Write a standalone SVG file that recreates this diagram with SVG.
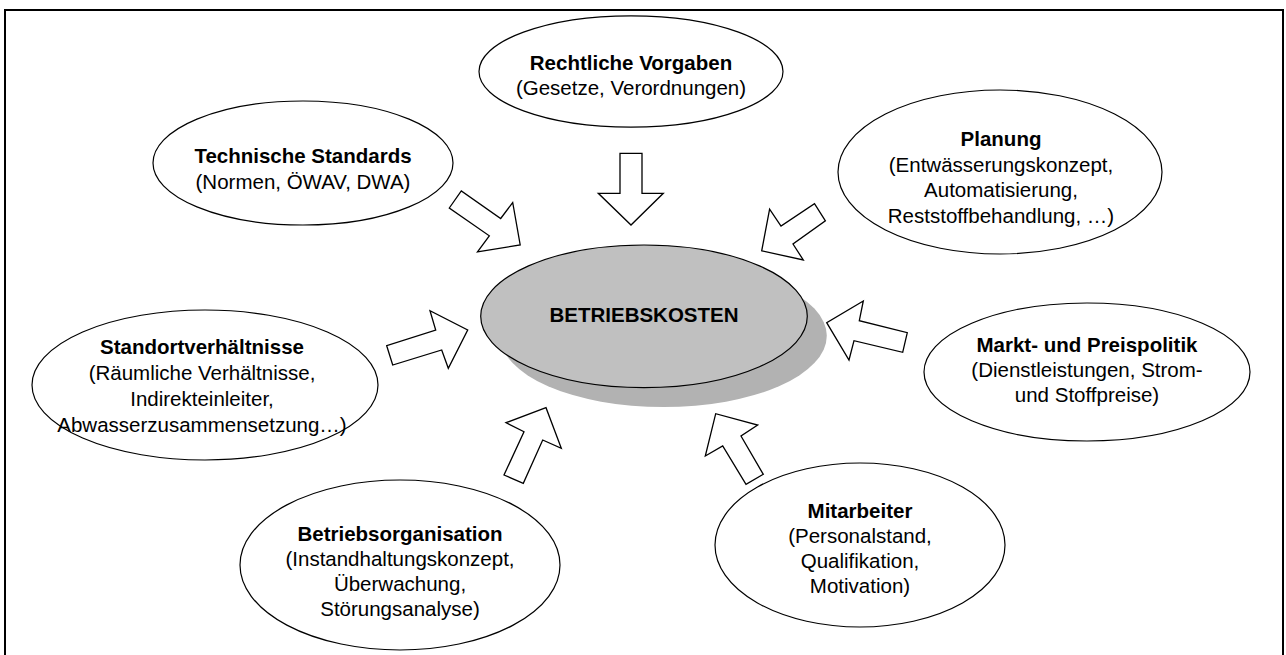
<svg xmlns="http://www.w3.org/2000/svg" width="1286" height="655" viewBox="0 0 1286 655">
  <style>
    .node { fill: #ffffff; stroke: #000000; stroke-width: 1.2; }
    .hub { fill: #c0c0c0; stroke: #000000; stroke-width: 1.2; }
    .shadow { fill: #b2b2b2; stroke: none; }
    .arrow { fill: #ffffff; stroke: #000000; stroke-width: 1.3; stroke-linejoin: miter; }
    text { font-family: "Liberation Sans", Arial, sans-serif; font-size: 20.5px; fill: #000000; text-anchor: middle; }
    .b { font-weight: bold; }
    .frame { fill: none; stroke: #000000; stroke-width: 2; }
  </style>

  <rect width="1286" height="655" fill="#ffffff"/>
  <!-- open frame: top, left and right edges -->
  <path class="frame" d="M5 660 V10 H1283 V660"/>

  <!-- centre node -->
  <g id="betriebskosten">
    <ellipse class="shadow" cx="663.5" cy="335.8" rx="163.3" ry="71.3"/>
    <ellipse class="hub" cx="644" cy="316.3" rx="163.3" ry="71.3"/>
    <text class="b" x="644" y="322.3">BETRIEBSKOSTEN</text>
  </g>

  <g id="rechtliche-vorgaben">
    <ellipse class="node" cx="631" cy="71.5" rx="152" ry="55.7"/>
    <text class="b" x="631" y="70">Rechtliche Vorgaben</text>
    <text x="631" y="95">(Gesetze, Verordnungen)</text>
  </g>

  <g id="technische-standards">
    <ellipse class="node" cx="303" cy="163" rx="150" ry="62"/>
    <text class="b" x="303" y="163">Technische Standards</text>
    <text x="303" y="189">(Normen, ÖWAV, DWA)</text>
  </g>

  <g id="planung">
    <ellipse class="node" cx="1000" cy="172" rx="162" ry="82"/>
    <text class="b" x="1001" y="146">Planung</text>
    <text x="1001" y="171.5">(Entwässerungskonzept,</text>
    <text x="1001" y="197">Automatisierung,</text>
    <text x="1001" y="222.5">Reststoffbehandlung, …)</text>
  </g>

  <g id="standortverhaeltnisse">
    <ellipse class="node" cx="205" cy="385" rx="173" ry="75"/>
    <text class="b" x="202" y="354">Standortverhältnisse</text>
    <text x="202" y="380">(Räumliche Verhältnisse,</text>
    <text x="202" y="406">Indirekteinleiter,</text>
    <text x="202" y="432">Abwasserzusammensetzung…)</text>
  </g>

  <g id="markt-preispolitik">
    <ellipse class="node" cx="1087" cy="372" rx="163" ry="69"/>
    <text class="b" x="1087" y="351.7">Markt- und Preispolitik</text>
    <text x="1087" y="376.5">(Dienstleistungen, Strom-</text>
    <text x="1087" y="401.5">und Stoffpreise)</text>
  </g>

  <g id="betriebsorganisation">
    <ellipse class="node" cx="400" cy="565" rx="160" ry="85"/>
    <text class="b" x="400" y="541">Betriebsorganisation</text>
    <text x="400" y="566">(Instandhaltungskonzept,</text>
    <text x="400" y="591">Überwachung,</text>
    <text x="400" y="616">Störungsanalyse)</text>
  </g>

  <g id="mitarbeiter">
    <ellipse class="node" cx="860" cy="545" rx="145" ry="82"/>
    <text class="b" x="860" y="518">Mitarbeiter</text>
    <text x="860" y="543">(Personalstand,</text>
    <text x="860" y="568">Qualifikation,</text>
    <text x="860" y="593">Motivation)</text>
  </g>

  <!-- block arrows pointing at the centre node -->
  <g id="connectors">
    <polygon class="arrow" points="620,153.3 642,153.3 642,193.3 663.3,193.3 631,225 598.3,193.3 620,193.3"/>
    <polygon class="arrow" points="449.3,208 461.3,191 500.7,218.5 512.7,202.5 520.2,245 477.5,251.8 489.3,235.8"/>
    <polygon class="arrow" points="825.4,220.8 814.5,203.6 781,226 769.6,209.2 761.7,250.8 803.3,260 793,244"/>
    <polygon class="arrow" points="386.7,345.7 392.7,365 441.7,350 448.3,368.3 467.7,330 430,310.7 435.7,330"/>
    <polygon class="arrow" points="907.3,332.7 902.7,352.3 854,340.7 849,360 826.7,322.7 863.3,301 859.3,320.7"/>
    <polygon class="arrow" points="504,475 523.3,483.3 542.7,440 561.3,448.3 546,407.7 506,422.7 524,431.7"/>
    <polygon class="arrow" points="763.3,474.3 746,484.3 722.7,446 705.3,456 715.7,413.7 757.7,425 741,436"/>
  </g>
</svg>
